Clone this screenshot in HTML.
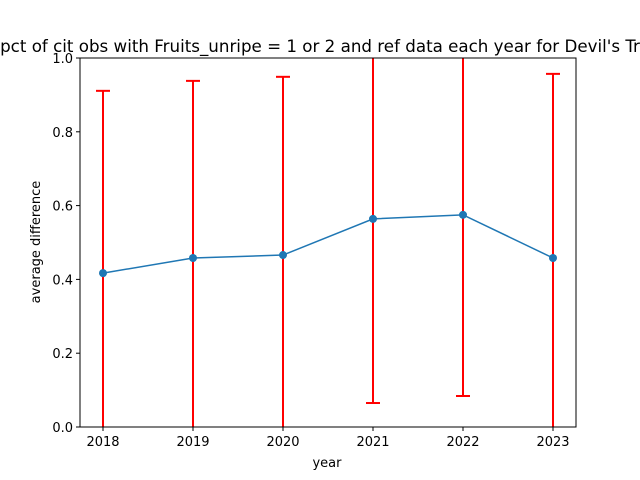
<!DOCTYPE html>
<html><head><meta charset="utf-8"><style>
body{margin:0;background:#fff;}
svg{display:block;font-family:"DejaVu Sans","Liberation Sans",sans-serif;}
</style></head><body>
<svg id="chart" width="640" height="480" viewBox="0 0 640 480">
<defs><clipPath id="ax"><rect x="80" y="58" width="496" height="369"/></clipPath></defs>
<rect x="0" y="0" width="640" height="480" fill="#fff"/>
<text x="320" y="52" text-anchor="middle" font-size="16.7" fill="#000">pct of cit obs with Fruits_unripe = 1 or 2 and ref data each year for Devil's Tr</text>
<g id="marks" clip-path="url(#ax)"></g>
<g id="axes"></g>
<rect x="80" y="58" width="496" height="369" fill="none" stroke="#000" stroke-width="1"/>
<text x="327" y="467" text-anchor="middle" font-size="13">year</text>
<text transform="translate(40,242) rotate(-90)" text-anchor="middle" font-size="13">average difference</text>
</svg>
<script>
const years=[2018,2019,2020,2021,2022,2023];
const means=[0.417,0.458,0.466,0.564,0.575,0.458];
const errs=[0.494,0.480,0.483,0.499,0.491,0.499];
const yTicks=[0,0.2,0.4,0.6,0.8,1.0];
const yTickLabels=["0.0","0.2","0.4","0.6","0.8","1.0"];
const NS="http://www.w3.org/2000/svg";
const X=v=>103+(v-2018)*90;
const Y=v=>427-v*369;
const marks=document.getElementById('marks'),axes=document.getElementById('axes');
function mk(tag,attrs,parent){const e=document.createElementNS(NS,tag);for(const k in attrs)e.setAttribute(k,attrs[k]);parent.appendChild(e);return e;}
years.forEach((yr,i)=>{
  const x=X(yr),lo=Y(means[i]-errs[i]),hi=Y(means[i]+errs[i]);
  const g=mk('g',{stroke:'red','stroke-width':2},marks);
  
  
  mk('line',{x1:x,x2:x,y1:lo,y2:hi},g);
  mk('line',{x1:x-7,x2:x+7,y1:lo,y2:lo},g);
  mk('line',{x1:x-7,x2:x+7,y1:hi,y2:hi},g);
});
const pl=mk('polyline',{points:years.map((yr,i)=>X(yr)+','+Y(means[i])).join(' '),fill:'none',stroke:'#1f77b4','stroke-width':1.5},marks);


years.forEach((yr,i)=>{
  const c=mk('circle',{cx:X(yr),cy:Y(means[i]),r:4,fill:'#1f77b4'},marks);
  
  
});
years.forEach(yr=>{
  const x=X(yr);
  mk('line',{x1:x,x2:x,y1:427,y2:431,stroke:'#000'},axes);
  const t=mk('text',{x:x,y:446,'text-anchor':'middle','font-size':13},axes);
  t.textContent=yr;
  
  
});
yTicks.forEach((v,i)=>{
  const y=Y(v);
  mk('line',{x1:76,x2:80,y1:y,y2:y,stroke:'#000'},axes);
  const t=mk('text',{x:73,y:y+5,'text-anchor':'end','font-size':13},axes);
  t.textContent=yTickLabels[i];
  
  
});
</script>
</body></html>
